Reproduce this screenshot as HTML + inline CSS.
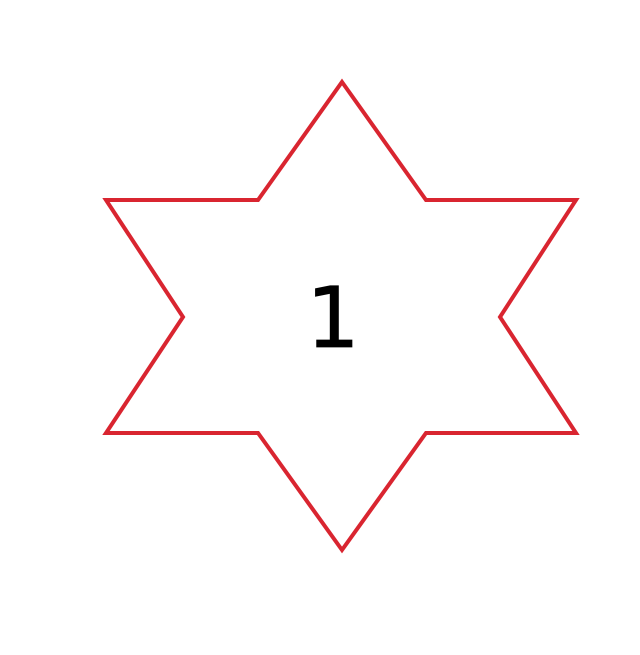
<!DOCTYPE html>
<html>
<head>
<meta charset="utf-8">
<style>
html,body{margin:0;padding:0;background:#fff;width:640px;height:655px;overflow:hidden;}
svg{display:block;}
</style>
</head>
<body>
<svg width="640" height="655" viewBox="0 0 640 655">
  <polygon
    points="342,82 426,200 576,200 500,317 576,433 426,433 342,550 258,433 106,433 183,317 106,200 258,200"
    fill="none" stroke="#d92530" stroke-width="4" stroke-linejoin="miter"/>
  <text x="333" y="347" text-anchor="middle"
    font-family="DejaVu Sans, sans-serif" font-size="84" fill="#000" stroke="#000" stroke-width="0.8">1</text>
</svg>
</body>
</html>
